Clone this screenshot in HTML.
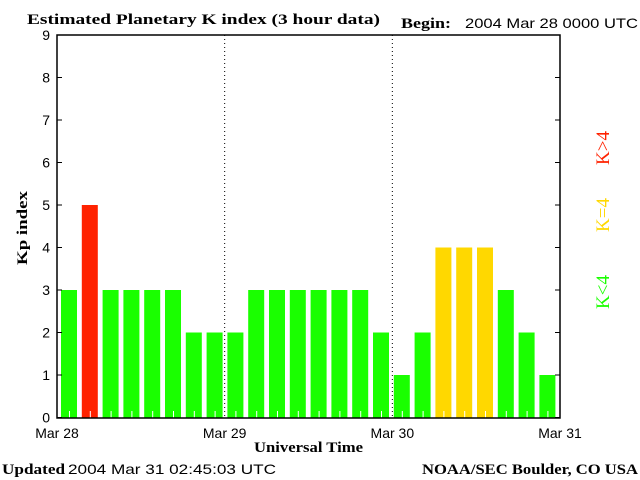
<!DOCTYPE html>
<html><head><meta charset="utf-8"><style>
body{margin:0;background:#fff;width:640px;height:480px;overflow:hidden}
svg{display:block}
.s{font-family:"Liberation Sans",sans-serif;font-size:14px}
.b{font-family:"Liberation Serif",serif;font-weight:bold;font-size:15px}
</style></head><body>
<svg id="c" width="640" height="480">
<text class="b" x="27" y="24" textLength="353" lengthAdjust="spacingAndGlyphs">Estimated Planetary K index (3 hour data)</text>
<text class="b" x="401" y="28" textLength="50" lengthAdjust="spacingAndGlyphs">Begin:</text>
<text class="s" x="465" y="28" textLength="173" lengthAdjust="spacingAndGlyphs">2004 Mar 28 0000 UTC</text>
<text class="b" x="0" y="0" transform="translate(27,228) rotate(-90)" text-anchor="middle" textLength="74" lengthAdjust="spacingAndGlyphs">Kp index</text>
<text class="b" x="254" y="452" textLength="109" lengthAdjust="spacingAndGlyphs">Universal Time</text>
<text class="b" x="2" y="474" textLength="63" lengthAdjust="spacingAndGlyphs">Updated</text>
<text class="s" x="68" y="474" textLength="208" lengthAdjust="spacingAndGlyphs">2004 Mar 31 02:45:03 UTC</text>
<text class="b" x="422" y="474" textLength="216" lengthAdjust="spacingAndGlyphs">NOAA/SEC Boulder, CO USA</text>
<text class="b" transform="translate(609,148) rotate(-90)" text-anchor="middle" fill="#ff2200" style="font-size:19px;font-weight:normal">K&gt;4</text>
<text class="b" transform="translate(609,215) rotate(-90)" text-anchor="middle" fill="#ffd800" style="font-size:19px;font-weight:normal">K=4</text>
<text class="b" transform="translate(609,292) rotate(-90)" text-anchor="middle" fill="#1aff00" style="font-size:19px;font-weight:normal">K&lt;4</text>
<g id="bars"></g>
<g id="axes"></g>
</svg>
<script>
const kpValues=[3,5,3,3,3,3,2,2,2,3,3,3,3,3,3,2,1,2,4,4,4,3,2,1];
const yTicks=[0,1,2,3,4,5,6,7,8,9];
const dayLabels=["Mar 28","Mar 29","Mar 30","Mar 31"];
const NS="http://www.w3.org/2000/svg";
const L=57,R=560,T=35,B=418,Y0=417.5,UNIT=42.5;
const y=v=>Y0-v*UNIT;
const slot=20.8;
const x=i=>L+i*slot;
function mk(t,a,p){const e=document.createElementNS(NS,t);for(const k in a)e.setAttribute(k,a[k]);p.appendChild(e);return e;}
const bars=document.getElementById('bars'),axes=document.getElementById('axes');
kpValues.forEach((v,i)=>{
 const col=v>4?'#ff2200':(v==4?'#ffd800':'#1aff00');
 const r=mk('rect',{x:x(i)+4,y:y(v),width:16,height:B-y(v),fill:col},bars);
 
 
 const t=mk('line',{x1:x(i)+12.5,x2:x(i)+12.5,y1:B-7,y2:B,stroke:'#fff'},bars);
 
 
});
[1,2].forEach(d=>{const xx=L+d*(R-L)/3;
 const l=mk('line',{x1:xx,x2:xx,y1:T,y2:B,stroke:'#000','stroke-dasharray':'1,3'},axes);
 
 });
const box=mk('rect',{x:L,y:T,width:R-L,height:B-T,fill:'none',stroke:'#000','stroke-width':1.5},axes);


yTicks.forEach(v=>{
 mk('line',{x1:L,x2:L+5,y1:y(v),y2:y(v),stroke:'#000'},axes);
 mk('line',{x1:R-5,x2:R,y1:y(v),y2:y(v),stroke:'#000'},axes);
 const t=mk('text',{x:50,y:y(v)+5,'text-anchor':'end',class:'s'},axes);t.textContent=v;
 
 
});
dayLabels.forEach((d,i)=>{
 const t=mk('text',{x:L+i*(R-L)/3,y:438,'text-anchor':'middle',class:'s'},axes);t.textContent=d;
 
 
});
</script>
</body></html>
